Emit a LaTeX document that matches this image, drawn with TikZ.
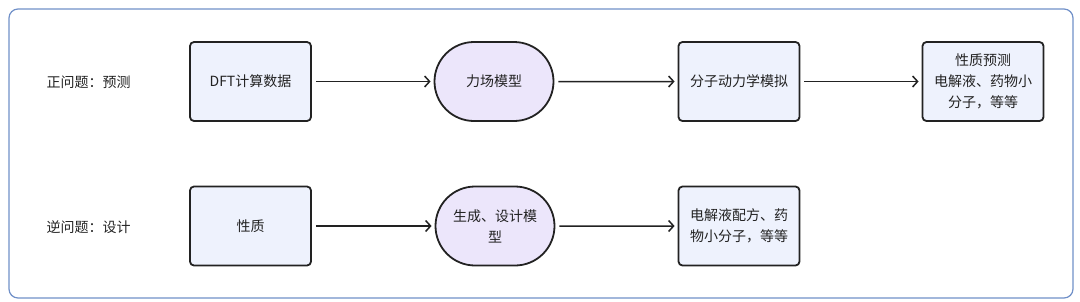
\documentclass[tikz,border=0pt]{standalone}
\usepackage{fontspec}
\setmainfont{Noto Sans CJK SC}
\usetikzlibrary{arrows.meta,shapes.misc}

\definecolor{framecol}{HTML}{7090C8}
\definecolor{boxfill}{HTML}{EEF2FD}
\definecolor{modelfill}{HTML}{ECE6FB}
\definecolor{inkcol}{HTML}{222222}

\tikzset{
  stepbox/.style={draw=inkcol, line width=1.8pt, rounded corners=4pt, fill=boxfill,
    minimum width=121pt, minimum height=79pt, align=center, inner sep=2pt,
    text=inkcol, font=\fontsize{14}{21}\selectfont},
  modelbox/.style={rounded rectangle, draw=inkcol, line width=1.8pt, fill=modelfill,
    minimum width=123pt, minimum height=79pt, align=center, inner sep=2pt,
    text=inkcol, font=\fontsize{14}{21}\selectfont},
  rowlabel/.style={anchor=west, text=inkcol, font=\fontsize{14}{21}\selectfont},
  flow/.style={line width=1.5pt, draw=inkcol, shorten <=4pt, shorten >=3pt,
    -{Straight Barb[length=5pt,width=11pt]}}
}

\begin{document}
\begin{tikzpicture}[x=1pt,y=-1pt]
\useasboundingbox (0,0) rectangle (1080,301);
\draw[framecol, line width=1.2pt, rounded corners=9pt] (9,9) rectangle (1073,298);

% forward problem
\node[rowlabel] (fwdlabel) at (43,82) {正问题：预测};
\node[stepbox] (dft) at (250.5,81.5) {DFT计算数据};
\node[modelbox] (ffield) at (494,81.5) {力场模型};
\node[stepbox] (mdsim) at (739,81.5) {分子动力学模拟};
\node[stepbox] (predict) at (983,81.5) {性质预测\\电解液、药物小\\分子，等等};

% inverse problem
\node[rowlabel] (invlabel) at (43,227) {逆问题：设计};
\node[stepbox] (prop) at (250.5,226) {性质};
\node[modelbox] (genmodel) at (495,226) {生成、设计模\\型};
\node[stepbox] (design) at (739,226) {电解液配方、药\\物小分子，等等};

\draw[flow] (dft) -- (ffield);
\draw[flow] (ffield) -- (mdsim);
\draw[flow] (mdsim) -- (predict);
\draw[flow] (prop) -- (genmodel);
\draw[flow] (genmodel) -- (design);
\end{tikzpicture}
\end{document}
